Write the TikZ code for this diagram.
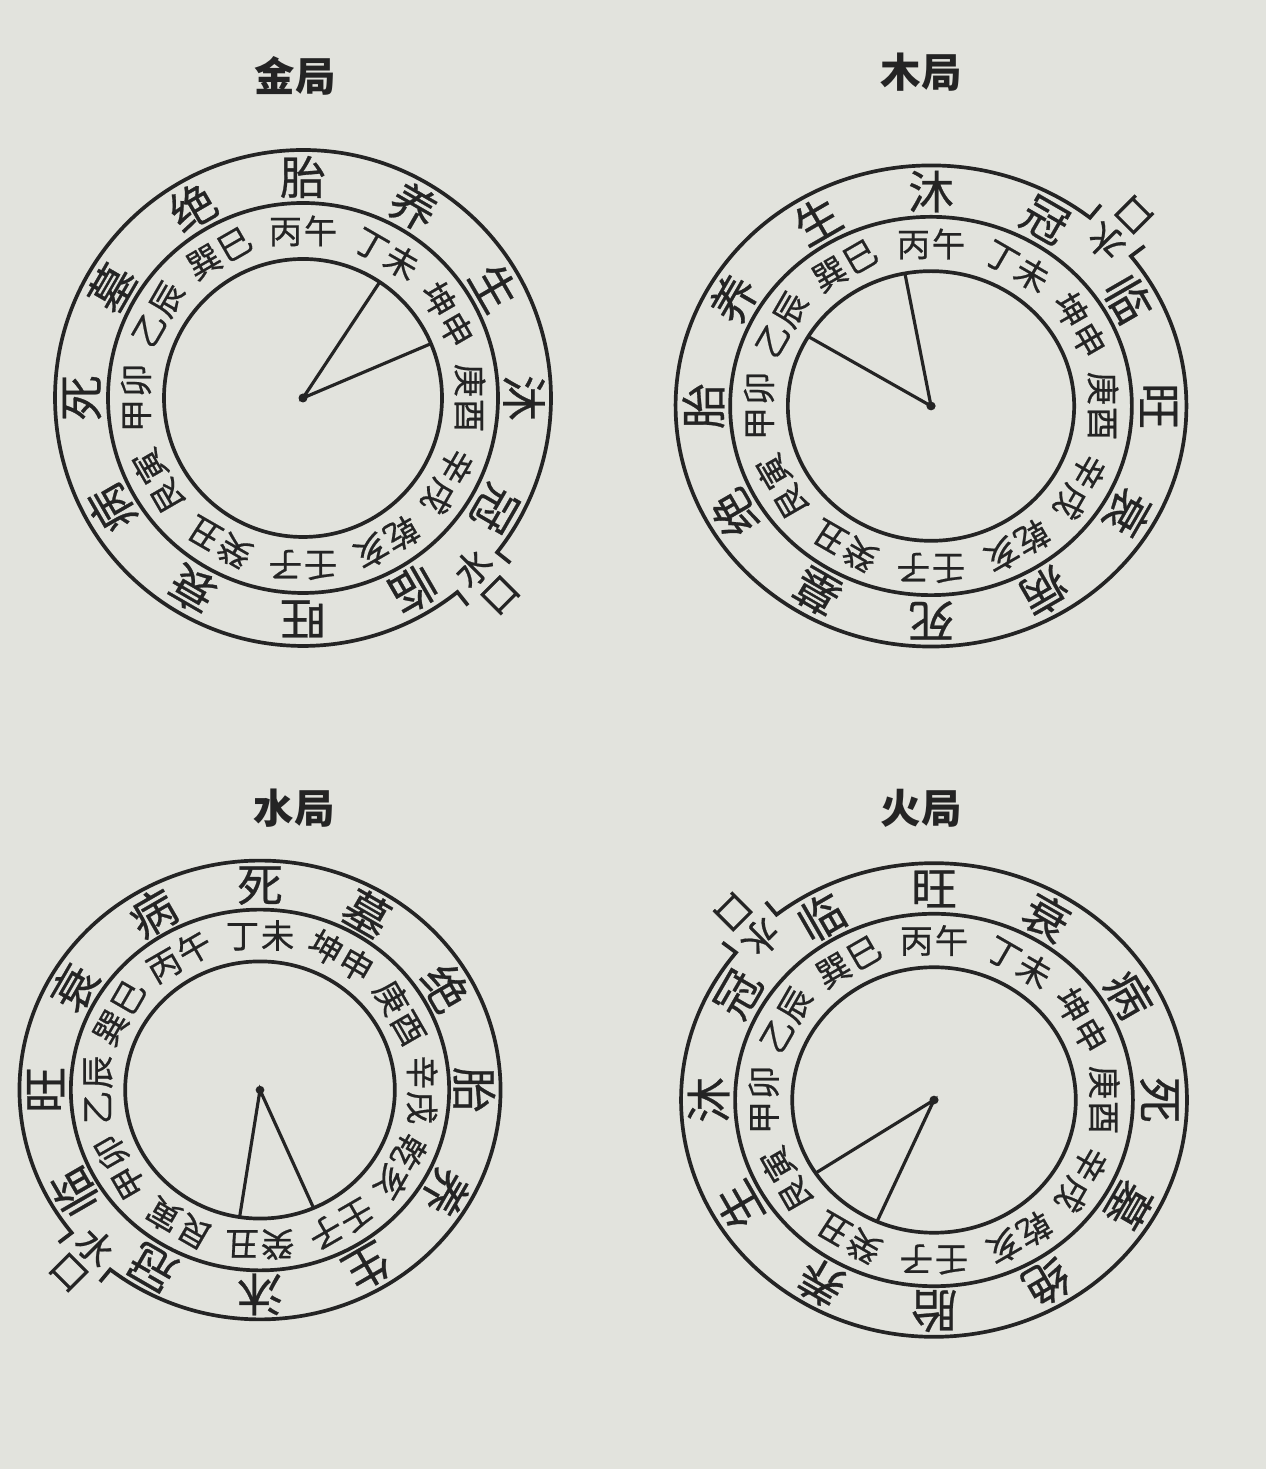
\documentclass[tikz,border=0pt]{standalone}
\usepackage{fontspec}
\newfontfamily\cjk{Noto Sans CJK SC}
\newfontfamily\cjkh[FakeBold=0.6]{Noto Sans CJK SC}
\definecolor{paper}{RGB}{226,227,221}
\definecolor{ink}{RGB}{36,36,36}
\tikzset{
  ring/.style={draw=ink, line width=2.1pt},
  spoke/.style={draw=ink, line width=1.8pt},
  midtxt/.style={inner sep=0pt, text=ink, font=\cjkh\fontsize{19}{19}\selectfont},
  outtxt/.style={inner sep=0pt, text=ink, font=\cjkh\fontsize{26}{26}\selectfont},
  koutxt/.style={inner sep=0pt, text=ink, font=\cjkh\fontsize{21}{21}\selectfont},
  titletxt/.style={inner sep=0pt, text=ink, font=\cjk\bfseries\fontsize{23}{23}\selectfont},
}
% #1 centre  #2 xscale  #3 yscale  #4 offset of 24-mountain ring  #5 angle of sheng
% #6 #7 spoke angles  #8 name
\newcommand\juchart[8]{%
\begin{scope}[shift={(#1)}, xscale=#2, yscale=#3]
  \coordinate (#8-c) at (0,0);
  \draw[ring] (#8-c) circle[radius=139];
  \draw[ring] (#8-c) circle[radius=195];
  \pgfmathsetmacro\wk{#5-75}
  \pgfmathsetmacro\wa{\wk+6.5}
  \pgfmathsetmacro\wb{\wk+353.5}
  \pgfmathsetmacro\wc{\wk-6.5}
  \draw[ring, line join=miter] (\wa:265) -- (\wa:248)
     arc[start angle=\wa, end angle=\wb, radius=248] -- (\wc:265);
  \foreach \pa/\pb [count=\i from 0] in {丙/午,丁/未,坤/申,庚/酉,辛/戌,乾/亥,壬/子,癸/丑,艮/寅,甲/卯,乙/辰,巽/巳}{
    \pgfmathsetmacro\ang{#4-30*\i}
    \node[midtxt, rotate=\ang-90] (#8-m\i) at (\ang:167) {\pa\hspace{1pt}\pb};
  }
  \foreach \s [count=\i from 0] in {生,沐,冠,临,旺,衰,病,死,墓,绝,胎,养}{
    \pgfmathsetmacro\ang{#5-30*\i}
    \node[outtxt, rotate=\ang-90] (#8-o\i) at (\ang:221) {\s};
  }
  \pgfmathsetmacro\kr{\wk+90}
  \node[koutxt, rotate=\kr] (#8-shui) at (\wk:240) {水};
  \node[koutxt, rotate=\kr] (#8-kou) at (\wk:279) {口};
  \coordinate (#8-p1) at (#6:139);
  \coordinate (#8-p2) at (#7:139);
  \draw[spoke] (#8-p1) -- (#8-c) -- (#8-p2);
  \fill[ink] (#8-c) circle[radius=4.5];
\end{scope}}
\begin{document}
\begin{tikzpicture}[x=0.02cm, y=0.02cm]
  \useasboundingbox (0,0) rectangle (1266,1469);
  \fill[paper] (0,0) rectangle (1266,1469);
  \node[titletxt] (t-jin) at (295,1393) {金局};
  \node[titletxt] (t-mu) at (921,1397) {木局};
  \node[titletxt] (t-shui) at (294,661) {水局};
  \node[titletxt] (t-huo) at (921,661) {火局};
  \juchart{303,1071}{1}{1}{90}{30}{56.5}{23}{jin}
  \juchart{931,1063}{1.03}{0.97}{90}{120}{100.5}{149}{mu}
  \juchart{260,379}{0.97}{0.925}{120}{-60}{-98.7}{-66.6}{shui}
  \juchart{934,369}{1.02}{0.955}{90}{-150}{-146.6}{-113.7}{huo}
\end{tikzpicture}
\end{document}
